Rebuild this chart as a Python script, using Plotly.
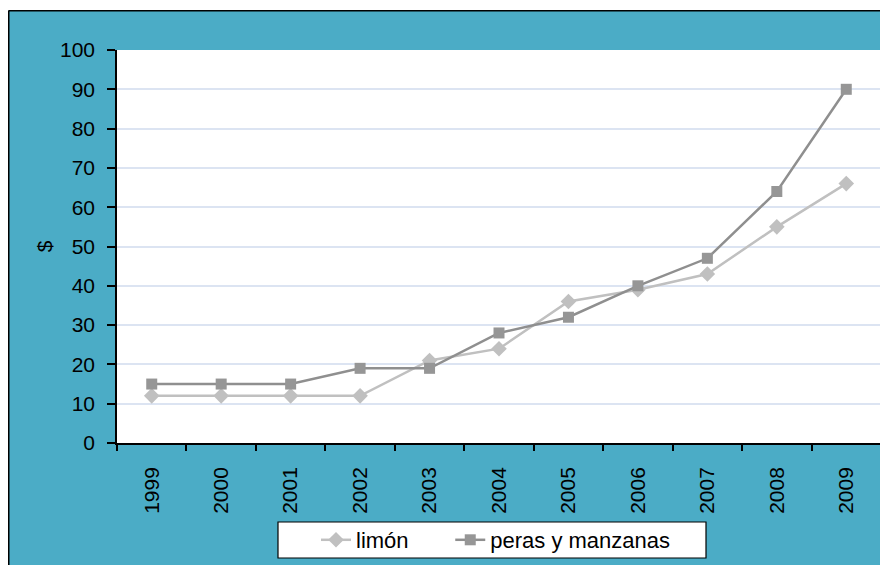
import plotly.graph_objects as go

years = ["1999", "2000", "2001", "2002", "2003", "2004", "2005", "2006", "2007", "2008", "2009"]
limon = [12, 12, 12, 12, 21, 24, 36, 39, 43, 55, 66]
peras = [15, 15, 15, 19, 19, 28, 32, 40, 47, 64, 90]
y_ticks = [0, 10, 20, 30, 40, 50, 60, 70, 80, 90, 100]
series_names = ["limón", "peras y manzanas"]

# page has an 8px body margin, so figure coords = page coords - 8
W, H = 880, 557
L, R, T, B = 109, 7, 42, 122
PW, PH = W - L - R, H - T - B

def px(x):
    return (x - L) / PW

def py(y):
    return (H - B - y) / PH

TEAL = "#4BACC6"
FONT = "Liberation Sans, Arial, sans-serif"
FS = 21
LFS = 22
PAD = "\u00a0" * 6

fig = go.Figure()
fig.add_trace(go.Scatter(
    x=years, y=limon, name=series_names[0] + PAD, mode="lines+markers",
    line=dict(color="#C0C0C0", width=2.5),
    marker=dict(symbol="diamond", size=12, color="#C0C0C0"),
))
fig.add_trace(go.Scatter(
    x=years, y=peras, name=series_names[1], mode="lines+markers",
    line=dict(color="#8F8F8F", width=2.5),
    marker=dict(symbol="square", size=11, color="#969696"),
))

shapes = [
    dict(type="rect", xref="paper", yref="paper", x0=px(-2), x1=px(W + 2), y0=py(2.5), y1=py(-2),
         fillcolor="white", line=dict(width=0), layer="above"),
    dict(type="line", xref="paper", yref="paper", x0=px(0.5), x1=px(W + 2), y0=py(2.75), y1=py(2.75),
         line=dict(color="black", width=1.5), layer="above"),
    dict(type="line", xref="paper", yref="paper", x0=px(0.75), x1=px(0.75), y0=py(2.75), y1=py(H + 2),
         line=dict(color="black", width=1.5), layer="above"),
    # legend box
    dict(type="rect", xref="paper", yref="paper", x0=px(270), x1=px(698), y0=py(550), y1=py(514),
         fillcolor="white", line=dict(color="black", width=1.2), layer="above"),
]

fig.update_layout(
    width=W, height=H,
    margin=dict(l=L, r=R, t=T, b=B, pad=0, autoexpand=False),
    paper_bgcolor=TEAL, plot_bgcolor="white",
    font=dict(family=FONT, size=FS, color="black"),
    showlegend=True,
    legend=dict(
        orientation="h", xref="container", yref="container",
        x=308 / W, xanchor="left", y=1 - 532 / H, yanchor="middle",
        bgcolor="rgba(0,0,0,0)", borderwidth=0,
        font=dict(family=FONT, size=LFS, color="black"),
    ),
    shapes=shapes,
    xaxis=dict(
        type="category", showgrid=False, showline=True, linecolor="black", linewidth=1.5,
        ticks="outside", tickson="boundaries", ticklen=6, tickcolor="black", tickwidth=1.5,
        tickangle=-90, ticklabelstandoff=14, tickfont=dict(family=FONT, size=FS, color="black"),
        range=[-0.5, 10.5], zeroline=False, automargin=False,
    ),
    yaxis=dict(
        range=[0, 100], tickvals=y_ticks, showgrid=True, gridcolor="#DCE4F2", gridwidth=1.5,
        showline=True, linecolor="black", linewidth=1.5, ticks="outside", ticklen=8,
        tickcolor="black", tickwidth=1.5, ticklabelstandoff=8, zeroline=False, automargin=False,
        tickfont=dict(family=FONT, size=FS, color="black"),
        title=dict(text="$", standoff=2, font=dict(family=FONT, size=FS, color="black")),
    ),
)

fig.write_html("out.html")
